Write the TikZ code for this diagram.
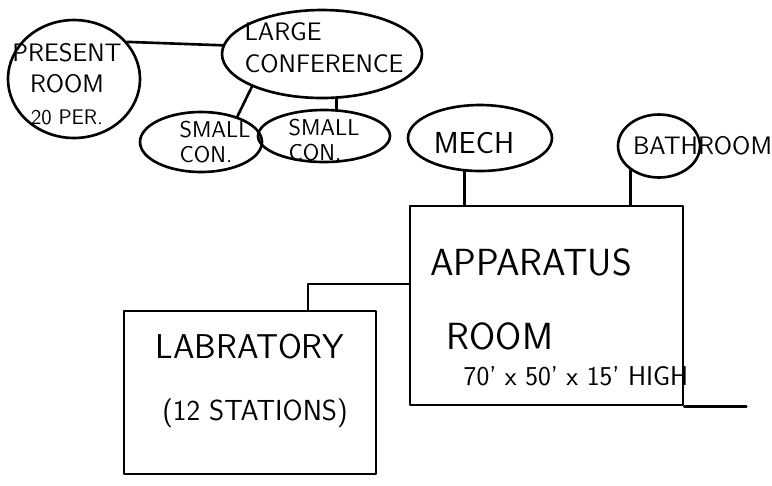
\documentclass[tikz,border=0pt]{standalone}
\usepackage{tikz}
\usetikzlibrary{shapes.geometric}
\usetikzlibrary{calc}
\usetikzlibrary{positioning}

\tikzset{
  room/.style={draw, ellipse, inner sep=0pt},
  block/.style={draw, rectangle, inner sep=0pt},
  lbl/.style={font=\sffamily, align=left, inner sep=0pt},
}

\begin{document}
\begin{tikzpicture}[x=0.02cm, y=-0.02cm, line width=1.5pt, line cap=round, line join=round]
        \useasboundingbox (0,0) rectangle (772,485);
        % bubbles, top left
        \node[room, minimum width=2.64cm, minimum height=2.36cm,
              label={[lbl, align=center, font=\sffamily\Large, xshift=-0.14cm, yshift=-0.1cm]center:{PRESENT\\ROOM\\{\large 20 PER.}}}] (present) at (74,79) {};
        \node[room, minimum width=4.0cm, minimum height=1.76cm,
              label={[lbl, font=\sffamily\Large, xshift=0.04cm, yshift=0.12cm]center:{LARGE\\CONFERENCE}}] (large) at (322,54) {};
        \node[room, minimum width=2.44cm, minimum height=1.2cm,
              label={[lbl, font=\sffamily\fontsize{13}{14}\selectfont, xshift=0.28cm]center:{SMALL\\CON.}}] (small1) at (201,142) {};
        \node[room, minimum width=2.64cm, minimum height=1.04cm,
              label={[lbl, font=\sffamily\fontsize{13}{14}\selectfont, yshift=-0.08cm]center:{SMALL\\CON.}}] (small2) at (324,136) {};
        % bubbles over the apparatus room
        \node[room, minimum width=2.88cm, minimum height=1.32cm,
              label={[lbl, font=\sffamily\LARGE, xshift=-0.12cm, yshift=-0.1cm]center:MECH}] (mech) at (480,138) {};
        \node[room, minimum width=1.64cm, minimum height=1.26cm,
              label={[lbl, font=\sffamily\Large, anchor=west, xshift=0.3cm]west:BATHROOM}] (bath) at (659,146) {};
        % rooms
        \node[block, minimum width=5.46cm, minimum height=3.98cm] (app) at (546.5,305.5) {};
        \node[lbl, font=\sffamily\fontsize{21.5}{25}\selectfont] (apptitle) at (531,262) {APPARATUS};
        \node[lbl, font=\sffamily\fontsize{21.5}{25}\selectfont] (approom) at (500,336) {ROOM};
        \node[lbl, font=\sffamily\fontsize{15.5}{18}\selectfont] (appsize) at (576,376) {70' x 50' x 15' HIGH};

        \node[block, minimum width=5.04cm, minimum height=3.26cm] (lab) at (250,392.5) {};
        \node[lbl, font=\sffamily\fontsize{19.6}{23}\selectfont] (labname) at (250,347) {LABRATORY};
        \node[lbl, font=\sffamily\fontsize{16.5}{19}\selectfont] (labseats) at (255,413) {(12 STATIONS)};

        \draw (present.35) -- (large.175);
        \draw (large.-155) -- (small1.35);
        \draw (large.-72) -- (small2.65);
        \draw (mech.-115) -- (mech.-115 |- app.north);
        \draw (bath.-140) -- (bath.-140 |- app.north);

        \coordinate (labjoint) at (308,284);
        \draw (labjoint |- lab.north) -- (labjoint) -- (labjoint -| app.west);
        \draw (app.south east) -- ++(62,0);
    \end{tikzpicture}
\end{document}
